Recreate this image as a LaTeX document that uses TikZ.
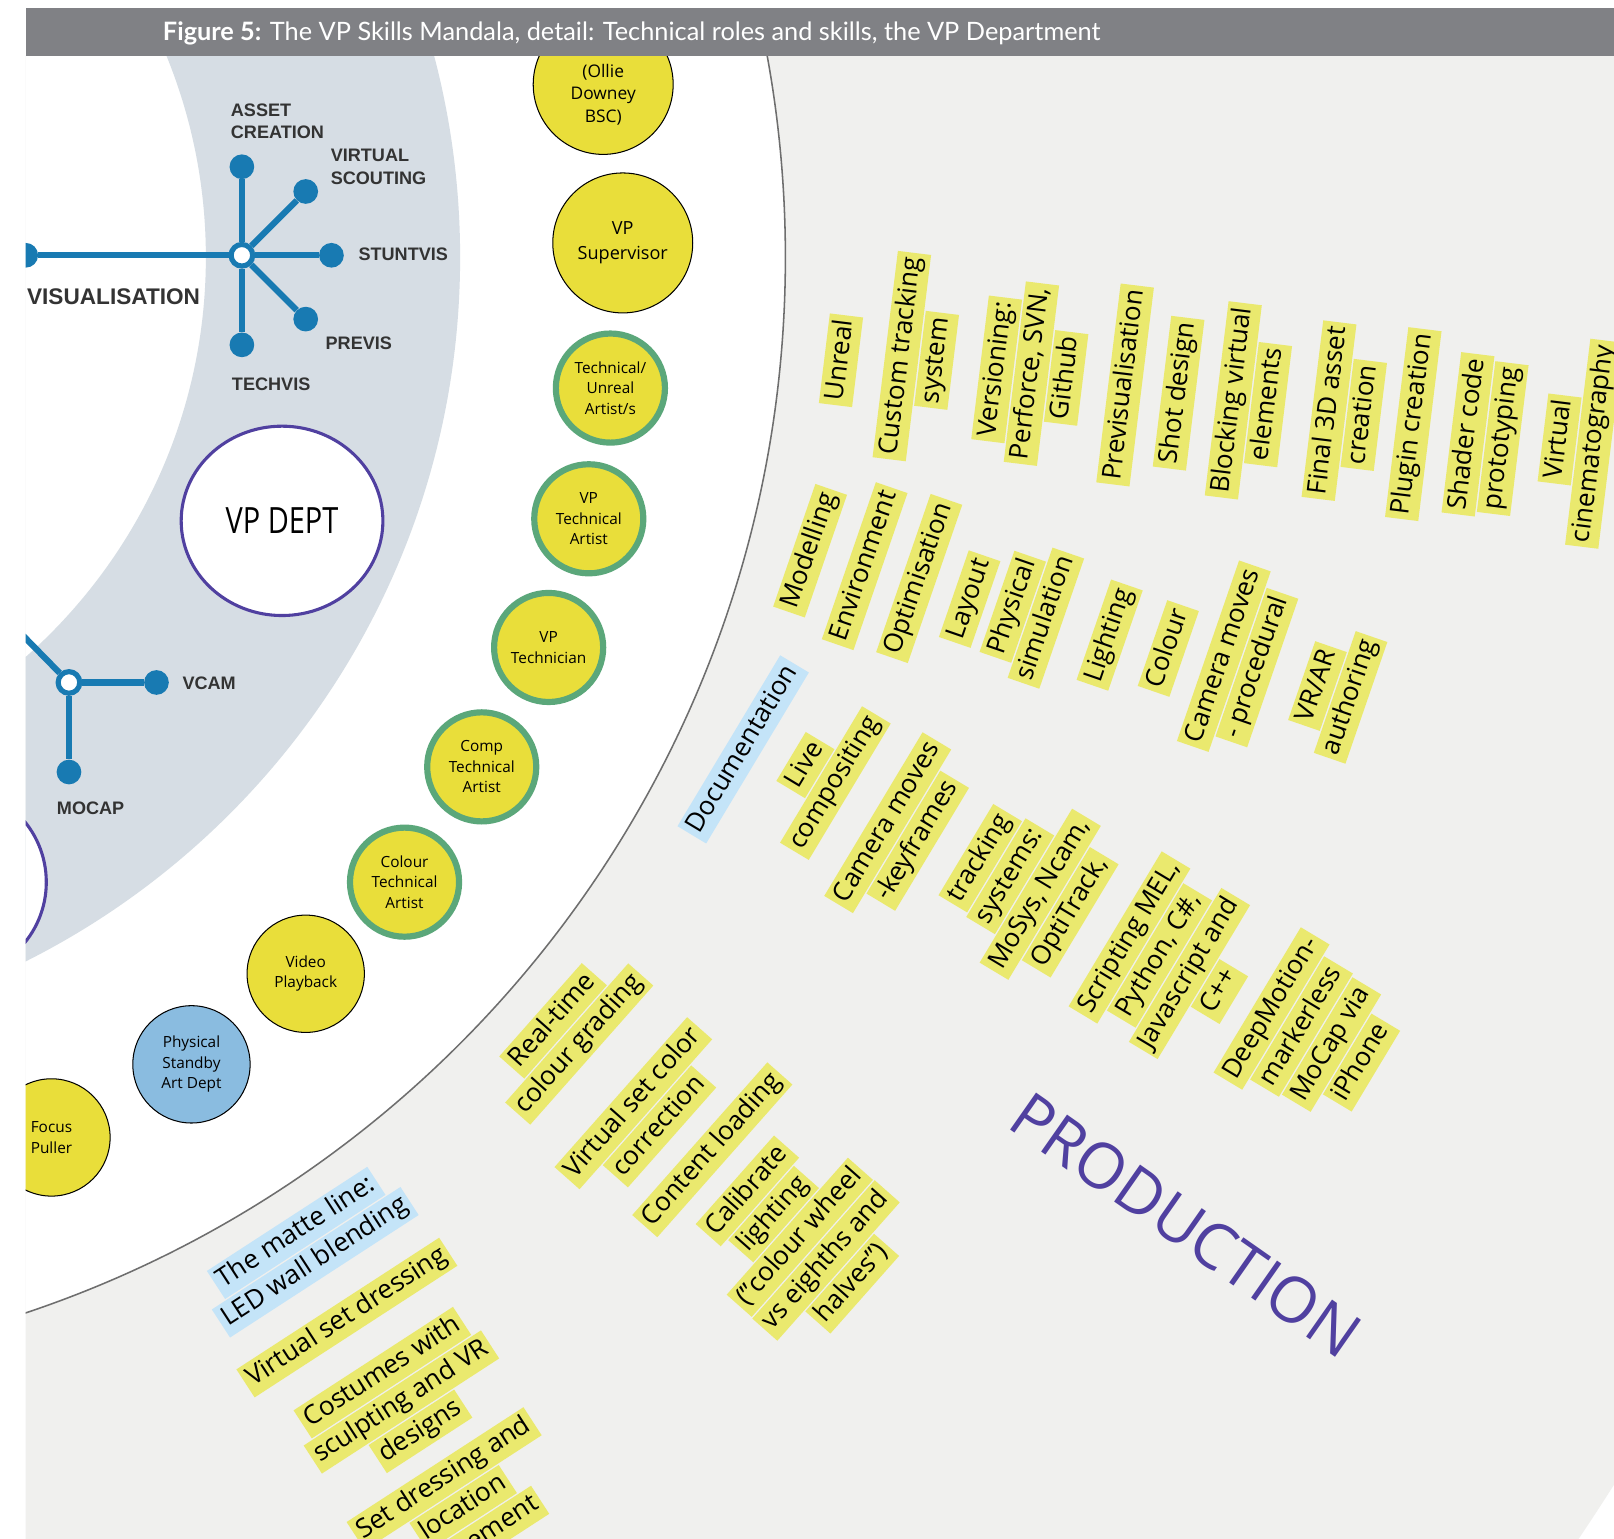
\documentclass[tikz,border=0pt]{standalone}
\usepackage{fontspec}
\setmainfont{Open Sans}
\newfontfamily\headfont{Lato}
\newfontfamily\hubfont{Liberation Sans}
\usetikzlibrary{shapes.geometric}

\definecolor{headgray}{RGB}{128,129,133}
\definecolor{ringgray}{RGB}{240,240,238}
\definecolor{arcgray}{RGB}{110,110,110}
\definecolor{bandblue}{RGB}{214,221,228}
\definecolor{hubblue}{RGB}{24,122,178}
\definecolor{roleyellow}{RGB}{233,222,58}
\definecolor{rolegreen}{RGB}{91,167,122}
\definecolor{roleblue}{RGB}{138,188,224}
\definecolor{deptpurple}{RGB}{80,64,160}
\definecolor{noteyellow}{RGB}{234,233,110}
\definecolor{noteblue}{RGB}{196,228,248}

\tikzset{
	hub/.style={circle, draw=hubblue, line width=0.1cm, fill=white, minimum size=0.42cm, inner sep=0pt},
	hubdot/.style={circle, fill=hubblue, minimum size=0.48cm, inner sep=0pt},
	hubline/.style={hubblue, line width=0.12cm},
	hublabel/.style={font=\hubfont\bfseries\fontsize{10}{12.5}\selectfont, text=black!80, align=left, anchor=west, inner sep=0pt},
	dept/.style={ellipse, draw=deptpurple, line width=0.06cm, fill=white, inner sep=0pt},
	role/.style={circle, fill=roleyellow, draw=black, line width=0.02cm, minimum size=2.28cm, inner sep=0pt, align=center, font=\fontsize{8.5}{11.3}\selectfont},
	techrole/.style={role, draw=rolegreen, line width=0.12cm, minimum size=2.12cm},
	note/.style={fill=noteyellow, inner xsep=2.5pt, inner ysep=0pt, text height=13pt, text depth=5.5pt, font=\fontsize{14.5}{17}\selectfont},
}

% sticky note: [fill] name, position, angle, number of lines, lines
\newcommand{\stick}[6][noteyellow]{%
	\begin{scope}[shift={#3}, rotate=#4, transform shape]
		\foreach \nt [count=\k] in {#6}
			\node[note, fill=#1] (#2-\k) at (0, {((#5+1)/2-\k)*34}) {\nt};
	\end{scope}}
\newcommand{\sq}{\char34}

\begin{document}
\begin{tikzpicture}[x=0.02cm, y=0.02cm]
	\useasboundingbox (0,0) rectangle (1568,-1495);
	\fill[white] (0,0) rectangle (1568,-1495);

	\begin{scope}
	\clip (25,-54) rectangle (1568,-1495);
	% rings of the mandala
	\fill[ringgray] (-318,-250) circle (2231);
	\fill[white] (-318,-250) circle (1081);
	\draw[arcgray, line width=0.03cm] (-318,-250) circle (1081);
	\fill[bandblue, even odd rule] (-318,-250) circle (765) (-318,-250) circle (518);

	% visualisation hub
	\node[hub] (vis) at (235,-248) {};
	\node[hubdot] (asset) at (235,-162) {};
	\node[hubdot] (scout) at (297,-186) {};
	\node[hubdot] (stunt) at (322,-248) {};
	\node[hubdot] (previs) at (297,-310) {};
	\node[hubdot] (techvis) at (235,-335) {};
	\node[hubdot] (visleft) at (25,-248) {};
	\foreach \d in {asset,scout,stunt,previs,techvis,visleft}
		\draw[hubline] (vis) -- (\d);
	\node[hublabel] (assetlab) at (224,-118) {ASSET\\CREATION};
	\node[hublabel] (scoutlab) at (321,-162) {VIRTUAL\\SCOUTING};
	\node[hublabel] (stuntlab) at (348,-247) {STUNTVIS};
	\node[hublabel] (previslab) at (316,-333) {PREVIS};
	\node[hublabel] (techvislab) at (225,-373) {TECHVIS};
	\node[hublabel, font=\hubfont\bfseries\fontsize{12.5}{14}\selectfont] (vislab) at (26,-288) {VISUALISATION};

	% camera hub
	\node[hub] (cam) at (67,-663) {};
	\node[hubdot] (vcam) at (152,-663) {};
	\node[hubdot] (mocap) at (67,-750) {};
	\coordinate (camleft) at (20,-615);
	\foreach \d in {vcam,mocap,camleft}
		\draw[hubline] (cam) -- (\d);
	\node[hublabel] (vcamlab) at (177,-664) {VCAM};
	\node[hublabel] (mocaplab) at (55,-785) {MOCAP};

	% departments
	\node[dept, minimum width=3.72cm, minimum height=3.72cm] (leftdept) at (-48,-857) {};
	\node[dept, minimum width=3.92cm, minimum height=3.68cm, font=\fontsize{20}{24}\selectfont] (vpdept) at (274,-506) {\scalebox{0.8}[1]{VP DEPT}};

	% roles
	\node[role, minimum size=2.72cm] (ollie) at (586,-82) {};
	\node[align=center, font=\fontsize{9.6}{12.5}\selectfont] (ollietext) at ([yshift=-0.2cm]ollie.center) {(Ollie\\Downey\\BSC)};
	\node[role, minimum size=2.72cm, font=\fontsize{10}{13.6}\selectfont] (supervisor) at (605,-236) {VP\\Supervisor};
	\node[techrole] (unrealta) at (593,-377) {Technical/\\Unreal\\Artist/s};
	\node[techrole] (vptech) at (572,-504) {VP\\Technical\\Artist};
	\node[techrole] (technician) at (533,-629) {VP\\Technician};
	\node[techrole] (compta) at (468,-745) {Comp\\Technical\\Artist};
	\node[techrole] (colourta) at (393,-857) {Colour\\Technical\\Artist};
	\node[role] (playback) at (297,-946) {Video\\Playback};
	\node[role, fill=roleblue] (standby) at (186,-1034) {Physical\\Standby\\Art Dept};
	\node[role] (focus) at (50,-1105) {Focus\\Puller};

	% skills, first row
	\stick{unreal}{(817,-350)}{83}{1}{Unreal}
	\stick{tracking}{(893,-348)}{83}{2}{Custom tracking, system}
	\stick{versioning}{(1002,-363)}{83}{3}{Versioning:, {Perforce, SVN,}, Github}
	\stick{previsualisation}{(1093,-374)}{83}{1}{Previsualisation}
	\stick{shot}{(1145,-382)}{83}{1}{Shot design}
	\stick{blocking}{(1215,-391)}{83}{2}{Blocking virtual, elements}
	\stick{final}{(1308,-401)}{83}{2}{Final 3D asset, creation}
	\stick{plugin}{(1373,-412)}{83}{1}{Plugin creation}
	\stick{shader}{(1443,-424)}{83}{2}{Shader code, prototyping}
	\stick{cine}{(1532,-429)}{83}{2}{Virtual, cinematography}

	% skills, second row
	\stick{modelling}{(787,-535)}{71}{1}{Modelling}
	\stick{environment}{(840,-550)}{71}{1}{Environment}
	\stick{optimisation}{(893,-562)}{71}{1}{Optimisation}
	\stick{layout}{(942,-582)}{71}{1}{Layout}
	\stick{physical}{(1000,-595)}{71}{2}{Physical, simulation}
	\stick{lighting}{(1078,-617)}{71}{1}{Lighting}
	\stick{colour}{(1135,-630)}{71}{1}{Colour}
	\stick{camproc}{(1205,-643)}{71}{2}{Camera moves, - procedural}
	\stick{vrar}{(1296,-672)}{71}{2}{VR/AR, authoring}

	% skills, third row
	\stick[noteblue]{documentation}{(722,-728)}{59}{1}{Documentation}
	\stick{livecomp}{(797,-752)}{59}{2}{Live, compositing}
	\stick{camkey}{(877,-808)}{59}{2}{Camera moves, -keyframes}
	\stick{tracksys}{(996,-860)}{59}{4}{tracking, systems:, {MoSys, Ncam,}, {OptiTrack,}}
	\stick{scripting}{(1141,-937)}{59}{4}{{Scripting MEL,}, {Python, C\#,}, Javascript and, C++}
	\stick{deepmotion}{(1279,-1006)}{59}{4}{DeepMotion-, markerless, MoCap via, iPhone}

	% skills, fourth row
	\stick{grading}{(550,-1003)}{48.5}{2}{Real-time, colour grading}
	\stick{setcolour}{(628,-1083)}{48.5}{2}{Virtual set color, correction}
	\stick{loading}{(692,-1117)}{48.5}{1}{Content loading}
	\stick{calibrate}{(777,-1202)}{48.5}{5}{Calibrate, lighting, {(\sq colour wheel}, vs eighths and, {halves\sq)}}

	% skills, fifth row
	\stick[noteblue]{matte}{(297,-1212)}{33}{2}{The matte line:, LED wall blending}
	\stick{setdressing}{(337,-1280)}{33}{1}{Virtual set dressing}
	\stick{costumes}{(390,-1362)}{33}{3}{Costumes with, sculpting and VR, designs}
	\stick{location}{(450,-1465)}{33}{3}{Set dressing and, location, placement}

	\node[text=deptpurple, font=\fontsize{35}{40}\selectfont, rotate=-35] (production) at (1152,-1190) {PRODUCTION};
	\end{scope}

	% header bar
	\fill[headgray] (25,-8) rectangle (1568,-54);
	\node[anchor=west, text=white, inner sep=0pt, font=\headfont\fontsize{14}{16}\selectfont] (title) at (158,-32) {\textbf{Figure 5:} The VP Skills Mandala, detail: Technical roles and skills, the VP Department};
\end{tikzpicture}
\end{document}
